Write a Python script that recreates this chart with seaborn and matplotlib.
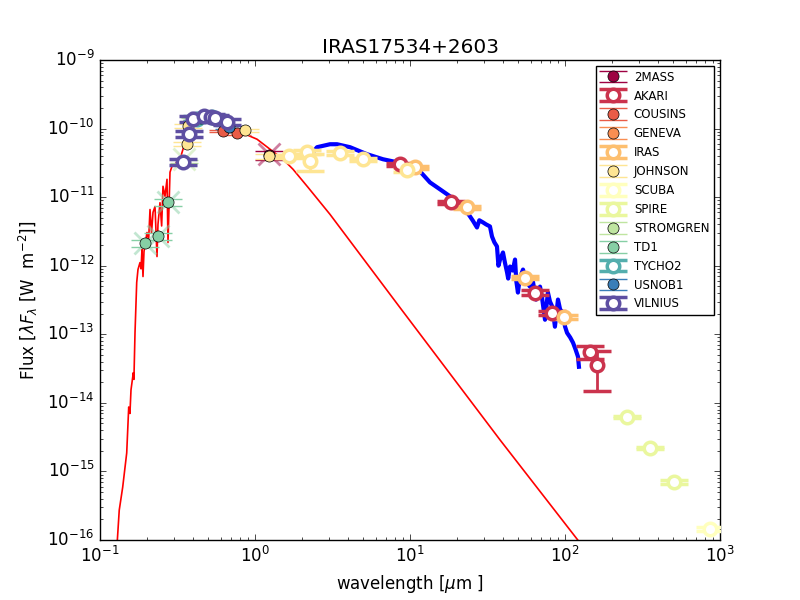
import numpy as np
import pandas as pd
import matplotlib
matplotlib.use('Agg')
import matplotlib.pyplot as plt
import seaborn as sns

plt.style.use('classic')
plt.rcParams['figure.facecolor'] = 'white'
plt.rcParams['savefig.facecolor'] = 'white'
plt.rcParams['mathtext.fontset'] = 'dejavusans'
plt.rcParams['font.family'] = ['DejaVu Sans']

# ---- model spectrum (red) ----
model_wave = [0.1278, 0.1294, 0.1331, 0.1401, 0.1487, 0.1532, 0.1560, 0.1585, 0.164, 0.1655,
              0.1682, 0.1725, 0.1758, 0.1811, 0.1840, 0.1866, 0.1894, 0.1922, 0.201, 0.2060,
              0.2102, 0.2150, 0.2198, 0.2264, 0.2332, 0.2366, 0.2438, 0.2499, 0.2549, 0.2626,
              0.2706, 0.2746, 0.2829, 0.2914, 0.314, 0.3282, 0.3431, 0.3535, 0.3695, 0.3922,
              0.4225, 0.49, 0.5685, 0.6598, 0.80, 0.928, 1.03, 1.25, 1.516, 1.759,
              2.198, 3.047, 8.62, 38.1, 121.3, 145.0]
model_flux = [5e-17, 1.0e-16, 2.73e-16, 5.9e-16, 1.86e-15, 8.7e-15, 7.0e-15, 1.55e-14, 2.75e-14, 2.2e-14,
              1.05e-13, 5.7e-13, 8.8e-13, 1.11e-12, 9.0e-13, 1.73e-12, 6.95e-13, 1.6e-12, 3.05e-12, 2.4e-12,
              6.6e-12, 3.0e-12, 6.0e-12, 7.3e-12, 1.36e-12, 4.0e-12, 8.3e-12, 3.8e-12, 1.44e-11, 1.03e-11,
              1.82e-11, 2.18e-12, 2.31e-11, 2.82e-11, 3.23e-11, 3.57e-11, 5.0e-11, 7.0e-11, 1.05e-10, 1.37e-10,
              1.52e-10, 1.63e-10, 1.37e-10, 1.08e-10, 9.16e-11, 7.74e-11, 7.0e-11, 5.0e-11, 3.57e-11, 2.55e-11,
              1.39e-11, 5.61e-12, 2.45e-13, 2.88e-15, 9.9e-17, 5.8e-17]

# ---- observed IR spectrum (blue) ----
spec_wave = [2.367, 2.512, 3.047, 3.381, 4.103, 5.28, 6.695, 8.245, 10.0, 11.6,
             13.46, 15.62, 18.11, 19.5, 20.3, 21.02, 22.5, 24.38, 25.5, 27.05,
             28.0, 29.58, 31.0, 32.8, 33.8, 35.0, 36.4, 37.2, 38.1, 39.8,
             41.0, 42.3, 43.0, 44.2, 46.0, 47.6, 48.5, 49.7, 51.0, 53.6,
             56.0, 59.4, 62.0, 65.0, 69.0, 71.0, 74.3, 77.6, 80.0, 83.0,
             86.1, 90.1, 93.0, 97.1, 100.0, 103.1, 108.0, 112.7, 117.0, 121.3, 123.0]
spec_flux = [4.52e-11, 5.35e-11, 5.91e-11, 5.91e-11, 5.35e-11, 4.23e-11, 3.57e-11, 3.23e-11, 2.73e-11, 2.38e-11,
             1.64e-11, 1.3e-11, 1.03e-11, 8.2e-12, 8.8e-12, 7.33e-12, 6.8e-12, 5.24e-12, 4.5e-12, 3.61e-12,
             4.6e-12, 4.28e-12, 4.0e-12, 3.74e-12, 2.67e-12, 2.2e-12, 1.91e-12, 1.0e-12, 1.23e-12, 1.56e-12,
             1.1e-12, 7.96e-13, 6.5e-13, 9.73e-13, 8.5e-13, 1.23e-12, 6.0e-13, 4.06e-13, 6.5e-13, 8.79e-13,
             6.0e-13, 4.96e-13, 6.0e-13, 3.2e-13, 4.96e-13, 3.5e-13, 1.63e-13, 4.06e-13, 3.0e-13, 2.5e-13,
             1.29e-13, 3.21e-13, 2.3e-13, 2.07e-13, 1.3e-13, 1.05e-13, 9.0e-14, 7.53e-14, 6.0e-14, 4.71e-14, 3.36e-14]

# ---- photometry per system ----
systems = ['2MASS', 'AKARI', 'COUSINS', 'GENEVA', 'IRAS', 'JOHNSON', 'SCUBA',
           'SPIRE', 'STROMGREN', 'TD1', 'TYCHO2', 'USNOB1', 'VILNIUS']

mass2_wave = [1.235]; mass2_flux = [4.1e-11]; mass2_err = [6e-12]
akari_wave = [8.62, 18.4, 64.0, 82.4, 145.0, 161.0]
akari_flux = [3.02e-11, 8.4e-12, 4.06e-13, 2.07e-13, 5.57e-14, 3.6e-14]
akari_err = [1.5e-12, 5e-13, 3e-14, 1.5e-14, 1.2e-14, 2.1e-14]
cousins_wave = [0.622, 0.766]; cousins_flux = [9.17e-11, 8.57e-11]; cousins_err = [4e-12, 4e-12]
geneva_wave = [0.42, 0.55]; geneva_flux = [1.42e-10, 1.43e-10]; geneva_err = [7e-12, 7e-12]
iras_wave = [10.8, 23.3, 55.2, 98.6]
iras_flux = [2.73e-11, 7.1e-12, 6.73e-13, 1.81e-13]
iras_err = [1.5e-12, 4e-13, 4e-14, 1.2e-14]
johnson_wave = [0.365, 0.37, 0.44, 0.55, 0.862, 1.23]
johnson_flux = [5.9e-11, 1.09e-10, 1.45e-10, 1.45e-10, 9.5e-11, 3.96e-11]
johnson_err = [4e-12, 8e-12, 1e-11, 1e-11, 5e-12, 3e-12]
johnson_x_wave = [1.66, 2.16, 2.25, 3.53, 4.98, 9.57]
johnson_x_flux = [3.94e-11, 4.52e-11, 3.33e-11, 4.36e-11, 3.57e-11, 2.47e-11]
johnson_x_err = [2e-12, 3e-12, 9.5e-12, 3e-12, 2e-12, 1.5e-12]
scuba_wave = [861.0]; scuba_flux = [1.44e-16]; scuba_err = [1e-17]
spire_wave = [251.0, 353.0, 505.0]; spire_flux = [6.24e-15, 2.2e-15, 7.0e-16]; spire_err = [3e-16, 1e-16, 4e-17]
strom_wave = [0.35, 0.411, 0.467, 0.547]; strom_flux = [3.3e-11, 1.36e-10, 1.5e-10, 1.44e-10]
strom_err = [1.6e-12, 7e-12, 7e-12, 7e-12]
td1_wave = [0.195, 0.237, 0.275]; td1_flux = [2.13e-12, 2.7e-12, 8.5e-12]; td1_err = [2.8e-13, 3.5e-13, 1e-12]
tycho_wave = [0.42, 0.53]; tycho_flux = [1.40e-10, 1.46e-10]; tycho_err = [1e-11, 1e-11]
usno_wave = [0.45, 0.679]; usno_flux = [1.44e-10, 1.05e-10]; usno_err = [7e-12, 5e-12]
vil_wave = [0.343, 0.375, 0.398, 0.469, 0.52, 0.55, 0.659]
vil_flux = [3.24e-11, 8.3e-11, 1.38e-10, 1.52e-10, 1.48e-10, 1.45e-10, 1.24e-10]
vil_err = [3.2e-12, 8e-12, 1.4e-11, 1.5e-11, 1.5e-11, 1.45e-11, 1.2e-11]

# flagged points (cross marks)
cross_sys = ['TD1', 'TD1', 'TD1', 'STROMGREN', '2MASS']
cross_wave = [0.195, 0.237, 0.275, 0.35, 1.235]
cross_flux = [2.13e-12, 2.7e-12, 8.5e-12, 3.6e-11, 4.3e-11]

phot = {
    '2MASS': (mass2_wave, mass2_flux, mass2_err, True),
    'AKARI': (akari_wave, akari_flux, akari_err, False),
    'COUSINS': (cousins_wave, cousins_flux, cousins_err, True),
    'GENEVA': (geneva_wave, geneva_flux, geneva_err, True),
    'IRAS': (iras_wave, iras_flux, iras_err, False),
    'JOHNSON': (johnson_wave, johnson_flux, johnson_err, True),
    'SCUBA': (scuba_wave, scuba_flux, scuba_err, False),
    'SPIRE': (spire_wave, spire_flux, spire_err, False),
    'STROMGREN': (strom_wave, strom_flux, strom_err, True),
    'TD1': (td1_wave, td1_flux, td1_err, True),
    'TYCHO2': (tycho_wave, tycho_flux, tycho_err, False),
    'USNOB1': (usno_wave, usno_flux, usno_err, True),
    'VILNIUS': (vil_wave, vil_flux, vil_err, False),
}

cmap = plt.get_cmap('Spectral')
colors = {s: cmap(v) for s, v in zip(systems, np.linspace(0, 1, len(systems)))}

fig, ax = plt.subplots(figsize=(8, 6), dpi=100)
fig.subplots_adjust(left=0.125, right=0.9, bottom=0.1, top=0.9)

model_df = pd.DataFrame({'wave': model_wave, 'flux': model_flux})
spec_df = pd.DataFrame({'wave': spec_wave, 'flux': spec_flux})
sns.lineplot(data=model_df, x='wave', y='flux', color='red', lw=1.2, ax=ax,
             sort=False, estimator=None, zorder=1, legend=False)
sns.lineplot(data=spec_df, x='wave', y='flux', color='blue', lw=3, ax=ax,
             sort=False, estimator=None, zorder=1, legend=False)

cross_df = pd.DataFrame({'wave': cross_wave, 'flux': cross_flux, 'sys': cross_sys})
for s, grp in cross_df.groupby('sys'):
    ax.plot(grp['wave'], grp['flux'], 'x', ms=16, mew=2, color=colors[s], alpha=0.5, zorder=2)

for s in systems:
    w, f, e, filled = phot[s]
    c = colors[s]
    if filled:
        ax.errorbar(w, f, yerr=e, fmt='o', mfc=c, mec='k', ms=8, ecolor=c,
                    elinewidth=1, capsize=10, capthick=1, label=s, zorder=3)
    else:
        ax.errorbar(w, f, yerr=e, fmt='o', mfc='white', mec=c, mew=2.5, ms=9, ecolor=c,
                    elinewidth=2, capsize=10, capthick=3, label=s, zorder=3)
    if s == 'JOHNSON':
        ax.errorbar(johnson_x_wave, johnson_x_flux, yerr=johnson_x_err, fmt='o', mfc='white',
                    mec=c, mew=2.5, ms=9, ecolor=c, elinewidth=2, capsize=10, capthick=3,
                    label='_nolegend_', zorder=3)

ax.set_xscale('log')
ax.set_yscale('log')
ax.set_xlim(0.1, 1000)
ax.set_ylim(1e-16, 1e-9)
ax.set_xlabel(r'wavelength [$\mu$m ]')
ax.set_ylabel(r'Flux [$\lambda F_\lambda$ [W  m$^{-2}$]]')
ax.set_title('IRAS17534+2603')
ax.legend(loc='upper right', numpoints=1, prop={'size': 8.5}, fancybox=False)

fig.savefig('out.png', dpi=100)
